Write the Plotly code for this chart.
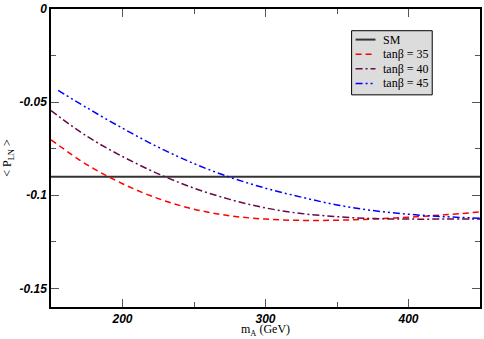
import plotly.graph_objects as go

# data
m_a = [150, 175, 200, 225, 250, 275, 300, 325, 350, 375, 400, 425, 450]
m_a_45 = [155, 175, 200, 225, 250, 275, 300, 325, 350, 375, 400, 425, 450]
sm_x = [150, 450]
sm_y = [-0.09, -0.09]
p_tb35 = [-0.0702, -0.0835, -0.0938, -0.1018, -0.1075, -0.1110, -0.1128,
          -0.1135, -0.1134, -0.1128, -0.1118, -0.1105, -0.1090]
p_tb40 = [-0.0545, -0.0683, -0.0792, -0.0885, -0.0962, -0.1022, -0.1068,
          -0.1098, -0.1115, -0.1125, -0.1128, -0.1128, -0.1127]
p_tb45 = [-0.0437, -0.0530, -0.0640, -0.0742, -0.0830, -0.0903, -0.0962,
          -0.1010, -0.1052, -0.1082, -0.1102, -0.1115, -0.1123]
y_tickvals = [0, -0.05, -0.1, -0.15]
y_ticktext = ["0", "-0.05", "-0.1", "-0.15"]
x_tickvals = [200, 300, 400]
names = ["SM", "tanβ = 35", "tanβ = 40", "tanβ = 45"]

serif = "Liberation Serif"
tickfont = dict(family="Liberation Sans", size=12, color="black",
                weight="bold", style="italic")

styles = [
    dict(color="#333333", width=2),
    dict(color="#ff0000", width=1.5, dash="6px,4px"),
    dict(color="#660a48", width=1.5, dash="7px,3px,2px,3px"),
    dict(color="#0000ff", width=1.5, dash="7px,3px,2px,3px,2px,3px"),
]

fig = go.Figure()
fig.add_trace(go.Scatter(x=sm_x, y=sm_y, mode="lines", name=names[0],
                         line=styles[0]))
for xs, ys, name, st in zip([m_a, m_a, m_a_45], [p_tb35, p_tb40, p_tb45],
                            names[1:], styles[1:]):
    fig.add_trace(go.Scatter(x=xs, y=ys, mode="lines", name=name,
                             line=dict(st, shape="spline")))

fig.update_xaxes(range=[150, 450], tickvals=x_tickvals, ticks="inside",
                 ticklen=8, tickwidth=1, tickcolor="#555555",
                 minor=dict(dtick=50, ticks="inside", ticklen=5,
                            tickcolor="#555555"),
                 showline=True, linecolor="black", linewidth=1.5,
                 mirror="ticks", showgrid=False, zeroline=False,
                 tickfont=tickfont, ticklabeloverflow="allow")
fig.update_yaxes(range=[-0.16, 0], tickvals=y_tickvals, ticktext=y_ticktext,
                 ticks="inside", ticklen=8, tickwidth=1, tickcolor="#555555",
                 minor=dict(dtick=0.025, tick0=0, ticks="inside", ticklen=5,
                            tickcolor="#555555"),
                 showline=True, linecolor="black", linewidth=1.5,
                 mirror="ticks", showgrid=False, zeroline=False,
                 tickfont=tickfont, ticklabeloverflow="allow",
                 title=dict(text="< P<sub>LN</sub> >", standoff=6,
                            font=dict(family=serif, size=12, color="black")))

# legend box drawn by hand (xmgrace style, compact rows)
W, H = 431.0, 302.0   # plot area in px
def px(x):
    return (x - 51) / W
def py(y):
    return (307 - y) / H

# x title as annotation, sitting just under the tick labels
fig.add_annotation(xref="paper", yref="paper", x=px(267), y=py(330),
                   text="m<sub>A</sub> (GeV)", showarrow=False,
                   xanchor="center", yanchor="middle",
                   font=dict(family=serif, size=12, color="black"))

fig.add_shape(type="rect", xref="paper", yref="paper",
              x0=px(353), x1=px(434), y0=py(92), y1=py(27),
              fillcolor="#dcdcdc", line=dict(color="black", width=1),
              layer="above")
for i, (name, st) in enumerate(zip(names, styles)):
    yy = 36 + i * 14.8
    fig.add_shape(type="line", xref="paper", yref="paper",
                  x0=px(357), x1=px(377), y0=py(yy), y1=py(yy),
                  line=st, layer="above")
    fig.add_annotation(xref="paper", yref="paper", x=px(383), y=py(yy),
                       text=name, showarrow=False, xanchor="left",
                       yanchor="middle",
                       font=dict(family=serif, size=12, color="black"))

fig.update_layout(
    width=484, height=339,
    margin=dict(l=51, r=2, t=5, b=32),
    plot_bgcolor="white", paper_bgcolor="white",
    showlegend=False,
)

# drop the default page margin so the figure sits at the window corner
fig.write_html("out.html", config={"displayModeBar": False},
               post_script="document.body.style.margin='0';")
